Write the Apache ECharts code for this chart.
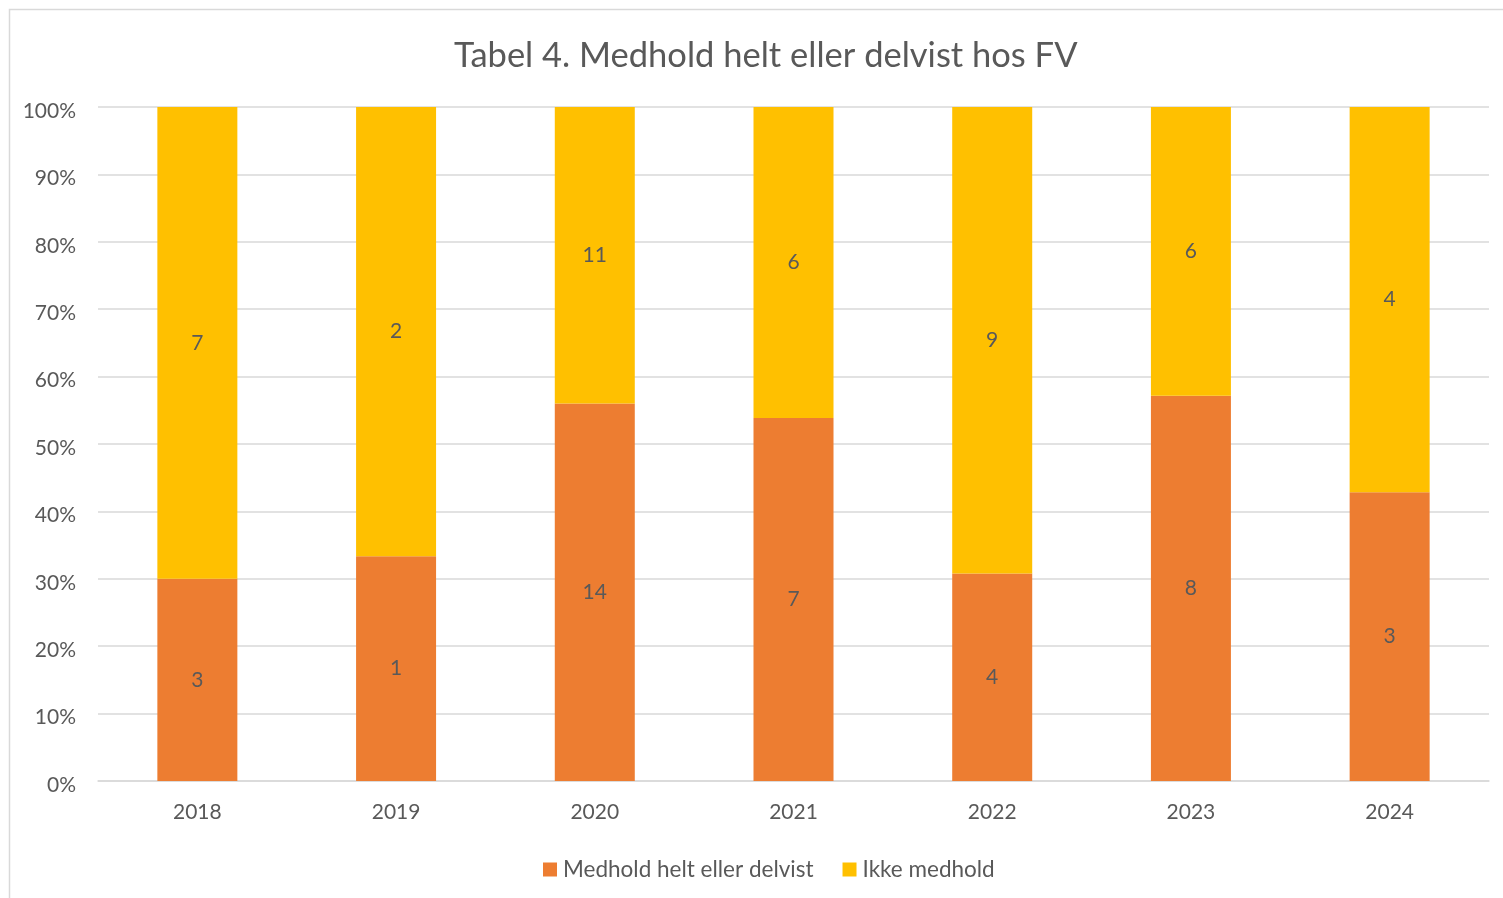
<!DOCTYPE html>
<html>
<head>
<meta charset="utf-8">
<script src="https://cdn.jsdelivr.net/npm/echarts@6/dist/echarts.min.js"></script>
<style>
    html, body { margin: 0; padding: 0; background: #fff; }
    #chart { width: 1503px; height: 898px; }
</style>
</head>
<body>
<div id="chart"></div>
<script>
    // data
    var years = ['2018', '2019', '2020', '2021', '2022', '2023', '2024'];
    var medhold = [3, 1, 14, 7, 4, 8, 3];
    var ikkeMedhold = [7, 2, 11, 6, 9, 6, 4];
    var yTicks = ['0%', '10%', '20%', '30%', '40%', '50%', '60%', '70%', '80%', '90%', '100%'];

    var textColor = '#595959';
    var font = 'Lato';

    // 100% stacked: share of each year's total
    function shares(part) {
        return part.map(function (v, i) {
            return v / (medhold[i] + ikkeMedhold[i]) * 100;
        });
    }

    var chart = echarts.init(document.getElementById('chart'));
    var option = {
        backgroundColor: '#fff',
        textStyle: {fontFamily: font},
        title: {
            text: 'Tabel 4. Medhold helt eller delvist hos FV',
            left: 449,
            top: 33,
            textStyle: {fontFamily: font, fontSize: 34.5, fontWeight: 'normal', color: textColor}
        },
        graphic: [{
            type: 'rect',
            shape: {x: 9.5, y: 9.5, width: 1510, height: 910},
            style: {fill: 'none', stroke: '#d9d9d9', lineWidth: 1.5},
            silent: true
        }],
        legend: {
            top: 853,
            left: 538,
            itemWidth: 14,
            itemHeight: 14,
            itemGap: 29,
            icon: 'rect',
            textStyle: {fontFamily: font, fontSize: 22.5, color: textColor, padding: [0, 0, 0, 1]},
            data: ['Medhold helt eller delvist', 'Ikke medhold']
        },
        grid: {left: 98, right: 14, top: 107, bottom: 117, containLabel: false},
        xAxis: {
            type: 'category',
            data: years,
            axisLine: {show: true, lineStyle: {color: '#d9d9d9', width: 1.5}},
            axisTick: {show: false},
            axisLabel: {fontFamily: font, fontSize: 21, color: textColor, margin: 21}
        },
        yAxis: {
            type: 'value',
            min: 0,
            max: 100,
            interval: 10,
            axisLine: {show: false},
            axisTick: {show: false},
            splitLine: {lineStyle: {color: '#d9d9d9', width: 1.5}},
            axisLabel: {
                fontFamily: font, fontSize: 21, color: textColor, margin: 22,
                verticalAlign: 'top', lineHeight: 8,
                formatter: function (v) { return yTicks[Math.round(v / 10)]; }
            }
        },
        series: [{
            name: 'Medhold helt eller delvist',
            type: 'bar',
            stack: 'total',
            barWidth: 80,
            itemStyle: {color: '#ed7d31'},
            label: {
                show: true, position: 'inside', fontFamily: font, fontSize: 21, color: textColor,
                formatter: function (p) { return medhold[p.dataIndex]; }
            },
            data: shares(medhold)
        }, {
            name: 'Ikke medhold',
            type: 'bar',
            stack: 'total',
            barWidth: 80,
            itemStyle: {color: '#ffc000'},
            label: {
                show: true, position: 'inside', fontFamily: font, fontSize: 21, color: textColor,
                formatter: function (p) { return ikkeMedhold[p.dataIndex]; }
            },
            data: shares(ikkeMedhold)
        }]
    };
    chart.setOption(option);
</script>
</body>
</html>
